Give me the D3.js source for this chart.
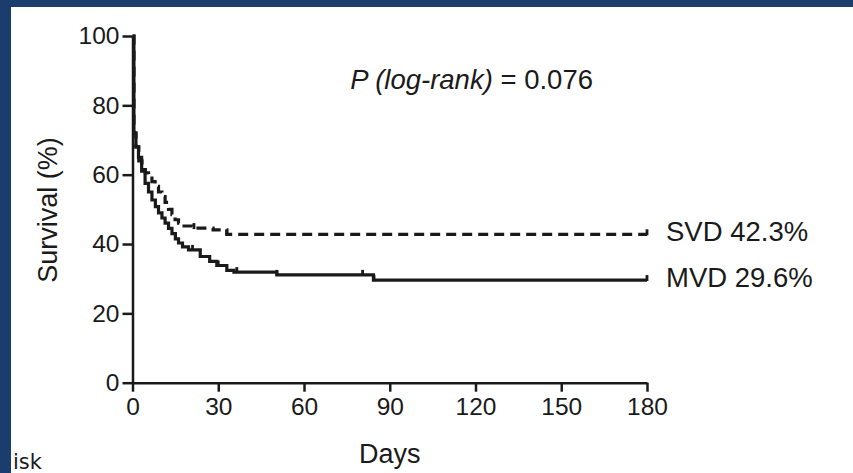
<!DOCTYPE html>
<html><head><meta charset="utf-8">
<script src="https://cdn.jsdelivr.net/npm/d3@7"></script>
<style>html,body{margin:0;padding:0;background:#fff;overflow:hidden}svg{display:block}</style>
</head><body>
<script>
// ---- data ----
const xTicks = [0, 30, 60, 90, 120, 150, 180];
const yTicks = [0, 20, 40, 60, 80, 100];
const svdDays = [0, 0.5, 1.2, 2.2, 3.3, 4.5, 5.6, 6.8, 7.9, 9.1, 10.3, 11.4, 12.6, 13.8, 14.9, 16.1, 17.3, 20.8, 28.2, 33, 180];
const svdSurv = [100, 72, 68, 64, 61.5, 60.5, 59.5, 58, 56.6, 55, 53.7, 52, 50, 48.5, 47, 46, 45.2, 44.6, 44.1, 42.8, 42.8];
const svdCensor = [21.5, 33, 180];
const mvdDays = [0, 0.5, 1.2, 2.1, 3.2, 4.4, 5.6, 6.8, 8, 9.1, 10.3, 11.4, 12.6, 13.8, 15, 16.1, 17.5, 19.6, 23.7, 27, 29.5, 33, 35.5, 50.5, 84.3, 180];
const mvdSurv = [100, 72, 68, 65, 61, 57.5, 55, 52.7, 50.8, 49, 47.5, 46, 44.5, 43, 41.5, 40.3, 39.2, 38.3, 36.4, 35, 33.8, 32.4, 31.9, 31.1, 29.6, 29.6];
const mvdCensor = [21, 30, 36.5, 50.5, 80.5, 84.5, 180];
const seriesLabels = ["SVD 42.3%", "MVD 29.6%"];
const pText = ["P (log-rank)", " = 0.076"];
const cornerText = "isk";

const W = 853, H = 473;
const svg = d3.select("body").append("svg").attr("width", W).attr("height", H);
svg.append("rect").attr("width", W).attr("height", H).attr("fill", "#fff");

const x = d3.scaleLinear().domain([0, 180]).range([132.5, 647]);
const y = d3.scaleLinear().domain([0, 100]).range([382.7, 36]);

const font = "'Liberation Sans', Arial, sans-serif";
const ink = "#1a1a1a";

// axes
const xAxis = svg.append("g").attr("transform", `translate(0,${y(0)})`)
  .call(d3.axisBottom(x).tickValues(xTicks).tickSize(9).tickSizeOuter(0).tickPadding(6));
const yAxis = svg.append("g").attr("transform", `translate(${x(0)},0)`)
  .call(d3.axisLeft(y).tickValues(yTicks).tickSize(10).tickSizeOuter(0).tickPadding(3));
[xAxis, yAxis].forEach(g => {
  g.selectAll("path.domain").attr("stroke", ink).attr("stroke-width", 2.5);
  g.selectAll(".tick line").attr("stroke", ink).attr("stroke-width", 2.5);
  g.selectAll("text").attr("fill", ink).attr("font-family", font).attr("font-size", 24.5);
});
xAxis.selectAll("text").attr("dy", "0.71em");

// curves
const line = d3.line().x(d => x(d[0])).y(d => y(d[1])).curve(d3.curveStepAfter);
function stepVal(days, surv, t) {
  let v = surv[0];
  for (let i = 0; i < days.length; i++) if (days[i] <= t) v = surv[i];
  return v;
}
function drawSeries(days, surv, censor, dash) {
  const pts = days.map((d, i) => [d, surv[i]]);
  svg.append("path").attr("d", line(pts)).attr("fill", "none")
    .attr("stroke", ink).attr("stroke-width", 3.2)
    .attr("stroke-dasharray", dash ? "10,6" : null);
  svg.selectAll(null).data(censor).enter().append("line")
    .attr("x1", d => x(d)).attr("x2", d => x(d))
    .attr("y1", d => y(stepVal(days, surv, d)) + 1)
    .attr("y2", d => y(stepVal(days, surv, d)) - 5)
    .attr("stroke", ink).attr("stroke-width", 2.8);
}
drawSeries(svdDays, svdSurv, svdCensor, true);
drawSeries(mvdDays, mvdSurv, mvdCensor, false);

// series labels
svg.append("text").attr("x", 666).attr("y", 241).text(seriesLabels[0])
  .attr("font-family", font).attr("font-size", 27.5).attr("fill", ink);
svg.append("text").attr("x", 666).attr("y", 287).text(seriesLabels[1])
  .attr("font-family", font).attr("font-size", 27.5).attr("fill", ink);

// p value
const pt = svg.append("text").attr("x", 593).attr("y", 89).attr("text-anchor", "end")
  .attr("font-family", font).attr("font-size", 27.5).attr("fill", ink);
pt.append("tspan").attr("font-style", "italic").text(pText[0]);
pt.append("tspan").text(pText[1]);

// axis titles
svg.append("text").attr("x", x(90)).attr("y", 463).attr("text-anchor", "middle")
  .attr("font-family", font).attr("font-size", 27).attr("fill", ink).text("Days");
svg.append("text").attr("transform", "translate(57,210) rotate(-90)").attr("text-anchor", "middle")
  .attr("font-family", font).attr("font-size", 27).attr("fill", ink).text("Survival (%)");

// partly visible bottom-left label
svg.append("text").attr("x", 13).attr("y", 469)
  .attr("font-family", "'DejaVu Sans', sans-serif").attr("font-size", 21).attr("fill", ink).text(cornerText);

// frame
const navy = "#1b3d6d";
svg.append("rect").attr("x", 0).attr("y", 0).attr("width", W).attr("height", 7).attr("fill", navy);
svg.append("rect").attr("x", 0).attr("y", 0).attr("width", 11).attr("height", H).attr("fill", navy);
</script>
</body></html>
